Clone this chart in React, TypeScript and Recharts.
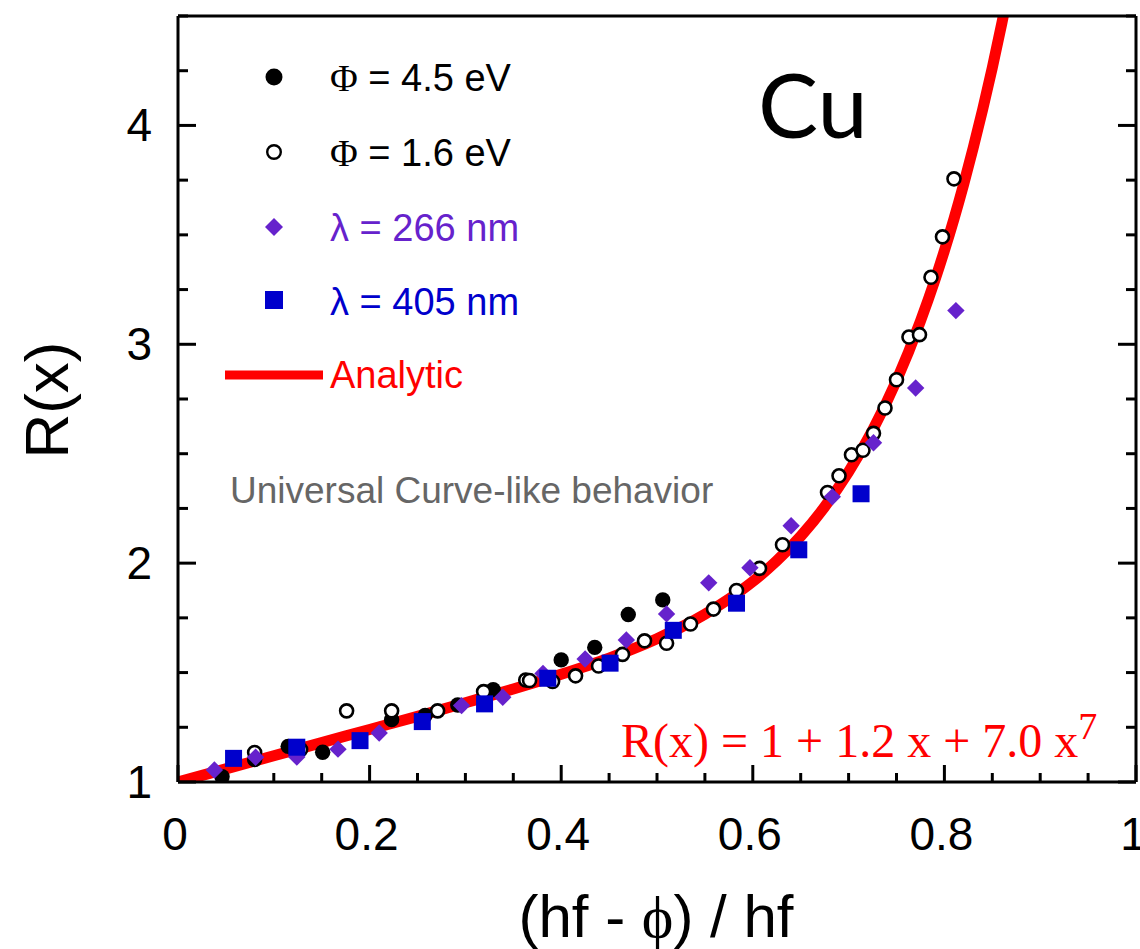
import { ComposedChart, Line, Scatter, XAxis, YAxis } from 'recharts'

// axis ticks (minor every 0.05 / 0.25, labels only on majors)
const xTicks = [0, 0.05, 0.1, 0.15, 0.2, 0.25, 0.3, 0.35, 0.4, 0.45, 0.5, 0.55, 0.6, 0.65, 0.7, 0.75, 0.8, 0.85, 0.9, 0.95, 1]
const xMajor = [0, 0.2, 0.4, 0.6, 0.8, 1]
const xTickLabels = ['0', '0.2', '0.4', '0.6', '0.8', '1']
const yTicks = [1, 1.25, 1.5, 1.75, 2, 2.25, 2.5, 2.75, 3, 3.25, 3.5, 3.75, 4, 4.25, 4.5]
const yMajor = [1, 2, 3, 4]
const yTickLabels = ['1', '2', '3', '4']

// Φ = 4.5 eV (filled circles)
const phi45X = [0.046, 0.080, 0.115, 0.151, 0.223, 0.258, 0.292, 0.329, 0.400, 0.435, 0.470, 0.506]
const phi45Y = [1.024, 1.103, 1.163, 1.136, 1.285, 1.304, 1.352, 1.422, 1.558, 1.615, 1.765, 1.832]

// Φ = 1.6 eV (open circles)
const phi16X = [0.080, 0.128, 0.176, 0.223, 0.271, 0.319, 0.363, 0.367, 0.391, 0.415, 0.439, 0.464, 0.487, 0.510, 0.535, 0.559, 0.583, 0.607, 0.631, 0.678, 0.690, 0.703, 0.715, 0.726, 0.738, 0.750, 0.763, 0.774, 0.786, 0.798, 0.810]
const phi16Y = [1.135, 1.148, 1.325, 1.325, 1.325, 1.413, 1.466, 1.464, 1.459, 1.485, 1.530, 1.583, 1.645, 1.634, 1.722, 1.790, 1.875, 1.976, 2.084, 2.323, 2.399, 2.495, 2.516, 2.593, 2.709, 2.838, 3.033, 3.044, 3.306, 3.491, 3.756]

// λ = 266 nm (diamonds)
const l266X = [0.038, 0.081, 0.124, 0.167, 0.210, 0.296, 0.339, 0.381, 0.425, 0.468, 0.510, 0.554, 0.597, 0.640, 0.683, 0.726, 0.770, 0.812]
const l266Y = [1.055, 1.113, 1.114, 1.150, 1.224, 1.349, 1.387, 1.496, 1.562, 1.649, 1.768, 1.910, 1.979, 2.171, 2.303, 2.550, 2.800, 3.154]

// λ = 405 nm (squares)
const l405X = [0.058, 0.124, 0.190, 0.255, 0.320, 0.386, 0.451, 0.517, 0.583, 0.648, 0.713]
const l405Y = [1.108, 1.159, 1.189, 1.276, 1.357, 1.474, 1.543, 1.693, 1.817, 2.061, 2.317]

// analytic curve
const curveX = [0, 0.05, 0.1, 0.15, 0.2, 0.25, 0.3, 0.35, 0.4, 0.45, 0.475, 0.5, 0.525, 0.55, 0.575, 0.6, 0.625, 0.65, 0.675, 0.7, 0.725, 0.75, 0.775, 0.79, 0.8, 0.81, 0.82, 0.83, 0.84, 0.85, 0.86, 0.87]
const curveY = [1, 1.06, 1.12, 1.18, 1.24, 1.3, 1.362, 1.425, 1.492, 1.566, 1.608, 1.655, 1.707, 1.767, 1.836, 1.916, 2.011, 2.123, 2.257, 2.417, 2.607, 2.834, 3.106, 3.292, 3.428, 3.573, 3.729, 3.896, 4.074, 4.264, 4.468, 4.685]

const zip = (xs: number[], ys: number[]) => xs.map((x, i) => ({ x, y: ys[i] }))

const PURPLE = '#6622cc'
const BLUE = '#0000cc'
const SANS = '"Liberation Sans", Arial, sans-serif'
const SERIF = '"Liberation Serif", "DejaVu Serif", "Times New Roman", serif'

const findIdx = (arr: number[], v: number) => arr.findIndex((m) => Math.abs(m - v) < 1e-6)

const XTickBottom = ({ x, y, payload }: any) => {
  const i = findIdx(xMajor, payload.value)
  return (
    <g>
      <line x1={x} x2={x} y1={y} y2={y - (i >= 0 ? 17 : 9)} stroke="#000" strokeWidth={3} />
      {i >= 0 && (
        <text x={x - 3} y={y + 68} textAnchor="middle" fontSize={46} fontFamily={SANS} fill="#000">
          {xTickLabels[i]}
        </text>
      )}
    </g>
  )
}

const XTickTop = ({ x, y, payload }: any) => {
  const major = findIdx(xMajor, payload.value) >= 0
  return <line x1={x} x2={x} y1={y} y2={y + (major ? 17 : 9)} stroke="#000" strokeWidth={3} />
}

const YTickLeft = ({ x, y, payload }: any) => {
  const i = findIdx(yMajor, payload.value)
  return (
    <g>
      <line x1={x} x2={x + (i >= 0 ? 18 : 10)} y1={y} y2={y} stroke="#000" strokeWidth={3} />
      {i >= 0 && (
        <text x={x - 26} y={y + 16} textAnchor="end" fontSize={46} fontFamily={SANS} fill="#000">
          {yTickLabels[i]}
        </text>
      )}
    </g>
  )
}

const YTickRight = ({ x, y, payload }: any) => {
  const major = findIdx(yMajor, payload.value) >= 0
  return <line x1={x} x2={x - (major ? 18 : 10)} y1={y} y2={y} stroke="#000" strokeWidth={3} />
}

const FilledDot = ({ cx, cy }: any) => <circle cx={cx} cy={cy} r={7.7} fill="#000" />
const OpenDot = ({ cx, cy }: any) => <circle cx={cx} cy={cy} r={6.5} fill="#fff" stroke="#000" strokeWidth={2.6} />
const Diamond = ({ cx, cy }: any) => (
  <polygon points={`${cx},${cy - 8.7} ${cx + 8.7},${cy} ${cx},${cy + 8.7} ${cx - 8.7},${cy}`} fill={PURPLE} />
)
const Square = ({ cx, cy }: any) => <rect x={cx - 8.5} y={cy - 8.5} width={17} height={17} fill={BLUE} />

const axisLine = { stroke: '#000', strokeWidth: 3 }

export default function App() {
  return (
    <div style={{ position: 'relative', width: 1140, height: 949, background: '#fff' }}>
      <style>{`body{margin:0;background:#fff}`}</style>
      <ComposedChart width={1140} height={949} margin={{ top: 0, right: 0, bottom: 0, left: 0 }}>
        <XAxis
          xAxisId="b"
          type="number"
          dataKey="x"
          domain={[0, 1]}
          allowDataOverflow
          ticks={xTicks}
          interval={0}
          height={167}
          tickSize={0}
          tickMargin={0}
          tickLine={false}
          axisLine={axisLine}
          tick={(p: any) => <XTickBottom {...p} />}
        />
        <XAxis
          xAxisId="t"
          orientation="top"
          type="number"
          domain={[0, 1]}
          allowDataOverflow
          ticks={xTicks}
          interval={0}
          height={16}
          tickSize={0}
          tickMargin={0}
          tickLine={false}
          axisLine={axisLine}
          tick={(p: any) => <XTickTop {...p} />}
        />
        <YAxis
          yAxisId="l"
          type="number"
          dataKey="y"
          domain={[1, 4.5]}
          allowDataOverflow
          ticks={yTicks}
          interval={0}
          width={178}
          tickSize={0}
          tickMargin={0}
          tickLine={false}
          axisLine={axisLine}
          tick={(p: any) => <YTickLeft {...p} />}
        />
        <YAxis
          yAxisId="r"
          orientation="right"
          type="number"
          domain={[1, 4.5]}
          allowDataOverflow
          ticks={yTicks}
          interval={0}
          width={4}
          tickSize={0}
          tickMargin={0}
          tickLine={false}
          axisLine={axisLine}
          tick={(p: any) => <YTickRight {...p} />}
        />
        <Line
          xAxisId="b"
          yAxisId="l"
          data={zip(curveX, curveY)}
          dataKey="y"
          type="monotone"
          stroke="#ff0000"
          strokeWidth={11}
          dot={false}
          activeDot={false}
          isAnimationActive={false}
        />
        <Scatter xAxisId="b" yAxisId="l" data={zip(phi45X, phi45Y)} dataKey="y" shape={(p: any) => <FilledDot {...p} />} isAnimationActive={false} />
        <Scatter xAxisId="b" yAxisId="l" data={zip(phi16X, phi16Y)} dataKey="y" shape={(p: any) => <OpenDot {...p} />} isAnimationActive={false} />
        <Scatter xAxisId="b" yAxisId="l" data={zip(l266X, l266Y)} dataKey="y" shape={(p: any) => <Diamond {...p} />} isAnimationActive={false} />
        <Scatter xAxisId="b" yAxisId="l" data={zip(l405X, l405Y)} dataKey="y" shape={(p: any) => <Square {...p} />} isAnimationActive={false} />
      </ComposedChart>

      <svg width={1140} height={949} style={{ position: 'absolute', left: 0, top: 0, pointerEvents: 'none' }}>
        {/* legend */}
        <g fontFamily={SANS} fontSize={38}>
          <circle cx={274} cy={77} r={8.5} fill="#000" />
          <text x={330} y={91} fill="#000">
            <tspan fontFamily={SERIF}>Φ</tspan> = 4.5 eV
          </text>
          <circle cx={274} cy={152} r={6.8} fill="#fff" stroke="#000" strokeWidth={2.4} />
          <text x={330} y={166} fill="#000">
            <tspan fontFamily={SERIF}>Φ</tspan> = 1.6 eV
          </text>
          <polygon points="274,218 283,227 274,236 265,227" fill={PURPLE} />
          <text x={330} y={241} fill={PURPLE}>λ = 266 nm</text>
          <rect x={265} y={291} width={18} height={18} fill={BLUE} />
          <text x={330} y={315} fill={BLUE}>λ = 405 nm</text>
          <line x1={225} x2={323} y1={375} y2={375} stroke="#ff0000" strokeWidth={9} />
          <text x={330} y={388} fill="#ff0000">Analytic</text>
        </g>

        <text x={758} y={138} fontFamily="Lato, 'Open Sans', sans-serif" fontSize={90} fill="#000">Cu</text>

        <text x={230} y={503} fontFamily={SANS} fontSize={37} fill="#666">Universal Curve-like behavior</text>

        <text x={621} y={757} fontFamily={SERIF} fontSize={48} fill="#ff0000">
          R(x) = 1 + 1.2 x + 7.0 x<tspan fontSize={38} dy={-18}>7</tspan>
        </text>

        <text x={68} y={400} transform="rotate(-90 68 400)" textAnchor="middle" fontFamily={SANS} fontSize={62} fill="#000">
          R(x)
        </text>

        <text x={656} y={937} textAnchor="middle" fontFamily={SANS} fontSize={60} fill="#000">
          (hf - <tspan fontFamily={SERIF}>ϕ</tspan>) / hf
        </text>
      </svg>
    </div>
  )
}
